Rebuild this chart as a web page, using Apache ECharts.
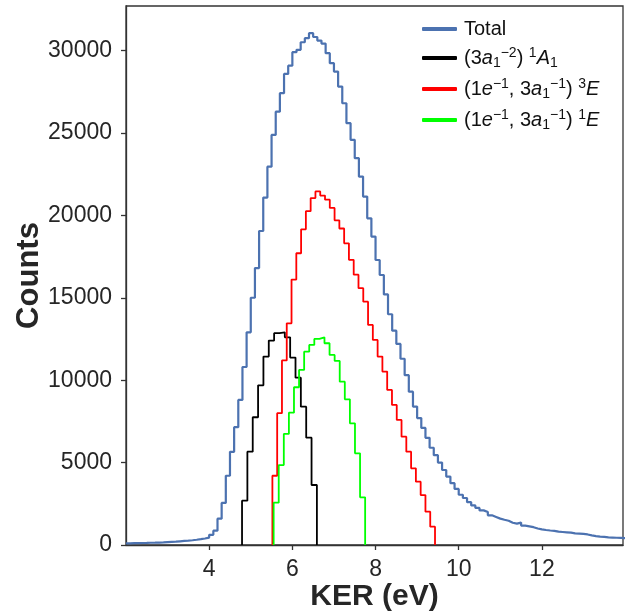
<!DOCTYPE html>
<html>
<head>
<meta charset="utf-8">
<script src="https://cdn.jsdelivr.net/npm/echarts@6/dist/echarts.min.js"></script>
<style>html,body{margin:0;padding:0;background:#fff}#c{width:629px;height:614px}</style>
</head>
<body>
<div id="c"></div>
<script>
// ---- data ----
// Total: bins of equal width from totalRange[0] to totalRange[1]
const totalRange = [2.0, 14.0];
const totalCounts = [
  100, 110, 115, 120, 125, 135, 140, 150, 160, 175,
  190, 205, 225, 245, 265, 290, 320, 355, 395, 450,
  620, 870, 1600, 2550, 4200, 5650, 7150, 8800, 10800, 12900,
  15000, 16800, 19050, 21080, 22950, 24880, 26290, 27410, 28580, 29080,
  29900, 30040, 30500, 30750, 31050, 30820, 30600, 30420, 29840, 29230,
  28720, 27810, 26800, 25590, 24580, 23470, 22350, 21140, 19820, 18710,
  17290, 16380, 15200, 14000, 13000, 12200, 11300, 10300, 9300, 8400,
  7700, 7100, 6500, 5900, 5450, 5000, 4550, 4150, 3750, 3400,
  3050, 2850, 2600, 2400, 2250, 2100, 2000, 1800, 1700, 1600,
  1530, 1470, 1350, 1300, 1360, 1180, 1130, 1080, 1000, 950,
  910, 880, 860, 810, 790, 770, 750, 710, 690, 670,
  640, 580, 540, 510, 490, 460, 450, 440, 430, 420
];
const a1Range = [4.79, 6.59];
const a1Counts = [2690, 5660, 7750, 9690, 11430, 12400, 12850, 12900, 12600, 11370, 10150, 8390, 6510, 3640];
const e3Range = [5.52, 9.43];
const e3Counts = [
  4200, 8000, 11200, 13450, 16100, 17700, 19150, 20250, 21050, 21450,
  21200, 20950, 20450, 19700, 19200, 18300, 17300, 16400, 15580, 14760,
  13350, 12440, 11430, 10520, 9410, 8500, 7590, 6570, 5660, 4650,
  3840, 3030, 2020, 1110
];
const e1Range = [5.55, 7.75];
const e1Counts = [2570, 4850, 6740, 8030, 9570, 10620, 11730, 12140, 12500, 12600, 12240, 11530, 11170, 9910, 8840, 7380, 5560, 2890];

const xTicks = [4, 6, 8, 10, 12];
const yTicks = [0, 5000, 10000, 15000, 20000, 25000, 30000];
const xExtent = [2.0, 13.95];
const yExtent = [0, 32700];

// histogram (step) outline from bin range + counts
function stepPoints(range, counts, closed) {
  const n = counts.length, w = (range[1] - range[0]) / n;
  const pts = [];
  if (closed) pts.push([range[0], 0]);
  for (let i = 0; i < n; i++) pts.push([range[0] + i * w, counts[i]]);
  pts.push([range[1], counts[n - 1]]);
  if (closed) pts.push([range[1], 0]);
  return pts;
}

const dark = '#262626';
const chart = echarts.init(document.getElementById('c'), null, {renderer: 'canvas'});
const font = 'Liberation Sans, Arial, sans-serif';

const legendLabels = {
  'Total': '{n|Total}',
  'A1': '{n|(3}{i|a}{sub|1}{sup|\u22122}{n|) }{sup|1}{i|A}{sub|1}',
  'E3': '{n|(1}{i|e}{sup|\u22121}{n|, 3}{i|a}{sub|1}{sup|\u22121}{n|) }{sup|3}{i|E}',
  'E1': '{n|(1}{i|e}{sup|\u22121}{n|, 3}{i|a}{sub|1}{sup|\u22121}{n|) }{sup|1}{i|E}'
};

function series(name, data, color, width) {
  return {
    name, type: 'line', step: 'end', data, showSymbol: false, symbol: 'none',
    lineStyle: {color, width}, itemStyle: {color}, clip: true
  };
}

chart.setOption({
  animation: false,
  backgroundColor: '#fff',
  grid: {left: 126, right: 6, top: 6, bottom: 69, outerBoundsMode: 'none', containLabel: false,
         show: true, borderColor: '#333', borderWidth: 1.3, backgroundColor: 'transparent'},
  legend: {
    orient: 'vertical', left: 417, top: 14, itemWidth: 35, itemHeight: 4, itemGap: 7,
    icon: 'roundRect',
    data: ['Total', 'A1', 'E3', 'E1'],
    formatter: name => legendLabels[name],
    textStyle: {
      padding: [0, 0, 0, 2],
      rich: {
        n: {fontFamily: font, fontSize: 20, color: '#111', lineHeight: 24, verticalAlign: 'middle'},
        i: {fontFamily: font, fontSize: 20, color: '#111', fontStyle: 'italic', lineHeight: 24, verticalAlign: 'middle'},
        sup: {fontFamily: font, fontSize: 14, color: '#111', lineHeight: 14, verticalAlign: 'top'},
        sub: {fontFamily: font, fontSize: 14, color: '#111', lineHeight: 14, verticalAlign: 'bottom'}
      }
    }
  },
  xAxis: {
    type: 'value', min: xExtent[0], max: xExtent[1],
    name: 'KER (eV)', nameLocation: 'middle', nameGap: 37, nameMoveOverlap: false,
    nameTextStyle: {fontFamily: font, fontSize: 30, fontWeight: 'bold', color: dark},
    axisLine: {show: true, lineStyle: {color: '#333', width: 1.3}},
    axisTick: {show: true, inside: false, length: 5, lineStyle: {color: '#333', width: 1.3}, customValues: xTicks},
    axisLabel: {customValues: xTicks, margin: 13, fontFamily: font, fontSize: 23, color: dark},
    splitLine: {show: false}
  },
  yAxis: {
    type: 'value', min: yExtent[0], max: yExtent[1],
    name: 'Counts', nameLocation: 'middle', nameGap: 81, nameMoveOverlap: false,
    nameTextStyle: {fontFamily: font, fontSize: 31, fontWeight: 'bold', color: dark},
    axisLine: {show: true, lineStyle: {color: '#333', width: 1.3}},
    axisTick: {show: true, inside: false, length: 5, lineStyle: {color: '#333', width: 1.3}, customValues: yTicks},
    axisLabel: {customValues: yTicks, margin: 14, fontFamily: font, fontSize: 23, color: dark, formatter: v => String(v)},
    splitLine: {show: false}
  },
  series: [
    series('Total', stepPoints(totalRange, totalCounts, false), '#4c72b0', 2.2),
    series('A1', stepPoints(a1Range, a1Counts, true), '#000000', 1.8),
    series('E3', stepPoints(e3Range, e3Counts, true), '#ff0000', 1.8),
    series('E1', stepPoints(e1Range, e1Counts, true), '#00ff00', 1.8)
  ]
});
</script>
</body>
</html>
